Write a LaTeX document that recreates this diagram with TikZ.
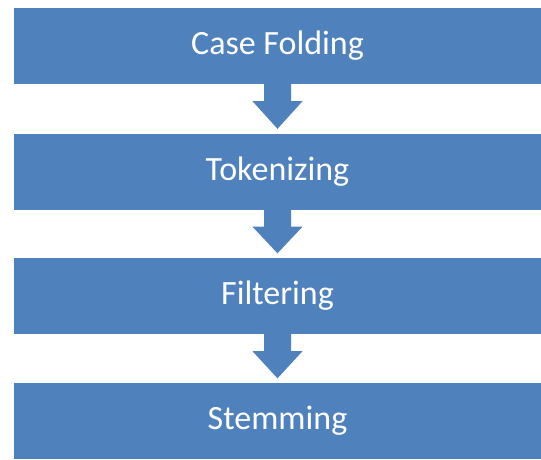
\documentclass[tikz,border=0pt]{standalone}
\usepackage{fontspec}
\setmainfont{Carlito}
\definecolor{boxblue}{HTML}{4F81BD}
\begin{document}
\begin{tikzpicture}[x=1pt,y=-1pt,
  stagebox/.style={fill=boxblue,draw=none,minimum width=527pt,minimum height=76pt,inner sep=0pt,text=white,font=\fontsize{34}{40}\selectfont},
  blockarrow/.style={fill=boxblue,draw=none}]
\useasboundingbox (0,0) rectangle (541,459);
\node[stagebox] (s1) at (277.5,46) {Case Folding};
\node[stagebox] (s2) at (277.5,171.5) {Tokenizing};
\node[stagebox] (s3) at (277.5,296) {Filtering};
\node[stagebox] (s4) at (277.5,421) {Stemming};
\foreach \a/\b in {s1/s2,s2/s3,s3/s4}{
  \fill[blockarrow] ([xshift=-13.5pt]\a.south) -- ([xshift=-13.5pt,yshift=-17pt]\a.south)
    -- ([xshift=-25pt,yshift=-17pt]\a.south) -- ([yshift=4.5pt]\b.north)
    -- ([xshift=25pt,yshift=-17pt]\a.south) -- ([xshift=13.5pt,yshift=-17pt]\a.south)
    -- ([xshift=13.5pt]\a.south) -- cycle;
}
\end{tikzpicture}
\end{document}
